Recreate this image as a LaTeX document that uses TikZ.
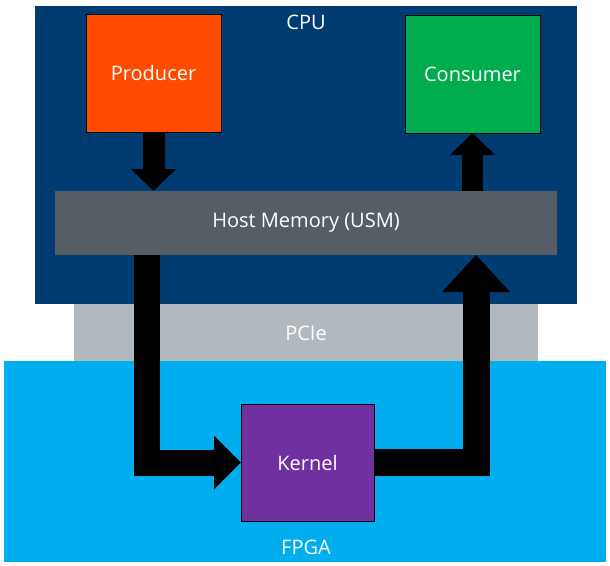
\documentclass[tikz,border=0pt]{standalone}
\usepackage{fontspec}
\setmainfont{Open Sans}
\usetikzlibrary{arrows.meta,calc}
\definecolor{cpublue}{HTML}{003C71}
\definecolor{prodorange}{HTML}{FF4A00}
\definecolor{consgreen}{HTML}{00AC4E}
\definecolor{memgray}{HTML}{555E65}
\definecolor{pciegray}{HTML}{B2B9BE}
\definecolor{fpgablue}{HTML}{00AEEF}
\definecolor{kernpurple}{HTML}{7030A0}
\tikzset{
  txt/.style={font=\fontsize{20}{24}\selectfont},
  region/.style={draw=none, inner sep=0pt, outer sep=0pt},
  block/.style={draw=black, line width=1pt, inner sep=0pt, outer sep=0pt, text=white, txt},
  lbl/.style={text=white, inner sep=0pt, txt},
  flow/.style={draw=black, line join=miter},
}
\begin{document}
\begin{tikzpicture}[x=1pt,y=-1pt]
\useasboundingbox (0,0) rectangle (610,565);
\fill[white] (0,0) rectangle (610,565);
% regions
\node[region, fill=cpublue, minimum width=542pt, minimum height=298pt] (cpu) at (306,155) {};
\node[region, fill=pciegray, minimum width=464pt, minimum height=57pt] (pcie) at (306,332.5) {};
\node[region, fill=fpgablue, minimum width=602pt, minimum height=201pt] (fpga) at (305,461.5) {};
\node[lbl] (cpulbl) at (306,22) {CPU};
\node[lbl] (pcielbl) at (306,333) {PCIe};
\node[lbl] (fpgalbl) at (306,547) {FPGA};
% blocks
\node[block, fill=prodorange, minimum width=135pt, minimum height=118pt] (prod) at (153.5,73) {Producer};
\node[block, fill=consgreen, minimum width=135pt, minimum height=118pt] (cons) at (472.5,74) {Consumer};
\node[region, fill=memgray, text=white, txt, minimum width=502pt, minimum height=64pt] (mem) at (306,223) {Host Memory (USM)};
\node[block, fill=kernpurple, minimum width=133pt, minimum height=117pt] (kern) at (307.5,462.5) {Kernel};
% helper coordinates
\coordinate (dx) at (147,0);
\coordinate (ux) at (476,0);
% arrows
\draw[flow, line width=22pt, -{Triangle[length=22pt,width=44pt]}] (prod.south) -- (mem.north -| prod.south);
\draw[flow, line width=21pt, -{Triangle[length=22pt,width=44pt]}] (mem.north -| cons.south) -- (cons.south);
\draw[flow, line width=26pt, -{Triangle[length=27pt,width=52pt]}] (mem.south -| dx) |- (kern.west);
\draw[flow, line width=27pt, -{Triangle[length=37pt,width=66pt]}] (kern.east) -| (mem.south -| ux);
\end{tikzpicture}
\end{document}
